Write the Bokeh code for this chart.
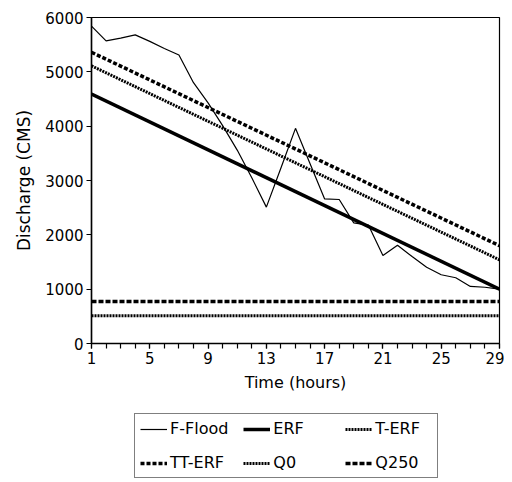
from bokeh.plotting import figure
from bokeh.layouts import column
from bokeh.models import Range1d, FixedTicker, Legend, LegendItem
from bokeh.embed import file_html
from bokeh.resources import INLINE

hours = list(range(1, 30))
f_flood = [5840, 5570, 5620, 5680, 5560, 5430, 5310, 4800, 4430, 4010,
           3560, 3050, 2510, 3230, 3960, 3310, 2660, 2650, 2220, 2180,
           1620, 1810, 1600, 1405, 1265, 1210, 1050, 1035, 1000]
line_hours = [1, 29]
erf = [4590, 1000]
t_erf = [5110, 1540]
tt_erf = [5360, 1800]
q0 = [510, 510]
q250 = [775, 775]
x_ticks = [1, 5, 9, 13, 17, 21, 25, 29]
y_ticks = [0, 1000, 2000, 3000, 4000, 5000, 6000]
labels = ["F-Flood", "ERF", "T-ERF", "TT-ERF", "Q0", "Q250"]

FONT = "DejaVu Sans"
styles = [
    dict(line_width=1.2),
    dict(line_width=3.5),
    dict(line_width=3, line_dash="2 1"),
    dict(line_width=3.5, line_dash="4 2"),
    dict(line_width=3, line_dash="2 1"),
    dict(line_width=3.5, line_dash="5 2"),
]

p = figure(frame_width=408, frame_height=326, output_backend="svg", toolbar_location=None,
           x_range=Range1d(1, 29), y_range=Range1d(0, 6000),
           min_border_left=91, min_border_right=5, min_border_top=17,
           min_border_bottom=56)
p.grid.visible = False
p.outline_line_color = "black"
p.outline_line_width = 1.2
p.background_fill_color = "white"
p.border_fill_color = "white"

series = [(hours, f_flood), (line_hours, erf), (line_hours, t_erf),
          (line_hours, tt_erf), (line_hours, q0), (line_hours, q250)]
for (xs, ys), st in zip(series, styles):
    p.line(xs, ys, line_color="black", **st)

xa = p.xaxis[0]
xa.ticker = FixedTicker(ticks=x_ticks, minor_ticks=hours)
xa.axis_label = "Time (hours)"
ya = p.yaxis[0]
ya.ticker = FixedTicker(ticks=y_ticks)
ya.axis_label = "Discharge (CMS)"
for ax in (xa, ya):
    ax.axis_line_color = "black"
    ax.axis_line_width = 1.5
    ax.major_tick_in = 0
    ax.major_tick_out = 5
    ax.minor_tick_in = 0
    ax.minor_tick_out = 5
    ax.major_tick_line_width = 1.2
    ax.minor_tick_line_width = 1.2
    ax.major_label_text_font = FONT
    ax.major_label_text_font_size = "15px"
    ax.major_label_text_color = "black"
    ax.axis_label_text_font = FONT
    ax.axis_label_text_font_style = "normal"
    ax.axis_label_text_color = "black"
    ax.major_label_standoff = 3
xa.axis_label_text_font_size = "16px"
ya.axis_label_text_font_size = "17px"
ya.minor_tick_out = 0
xa.axis_label_standoff = 6
ya.axis_label_standoff = 8

# legend figure (legend glyph samples only; NaN data draws nothing)
p2 = figure(width=504, height=80, output_backend="svg", toolbar_location=None,
            x_range=Range1d(0, 1), y_range=Range1d(0, 1),
            x_axis_type=None, y_axis_type=None, min_border=0)
p2.grid.visible = False
p2.outline_line_color = None
items = []
for lab, st in zip(labels, styles):
    r = p2.line([float("nan")], [float("nan")], line_color="black", **st)
    items.append(LegendItem(label=lab, renderers=[r]))

legend = Legend(items=items, orientation="horizontal", ncols=3, location=(43, 1))
legend.border_line_color = "black"
legend.border_line_width = 1.2
legend.background_fill_alpha = 0
legend.label_text_font = FONT
legend.label_text_font_size = "16px"
legend.label_text_color = "black"
legend.glyph_width = 27
legend.glyph_height = 18
legend.label_standoff = 3
legend.label_width = 57
legend.label_height = 18
legend.spacing = 15
legend.padding = 5
legend.margin = 0
p2.add_layout(legend, "center")

layout = column(p, p2, spacing=0)
open("out.html", "w").write(file_html(layout, INLINE))
